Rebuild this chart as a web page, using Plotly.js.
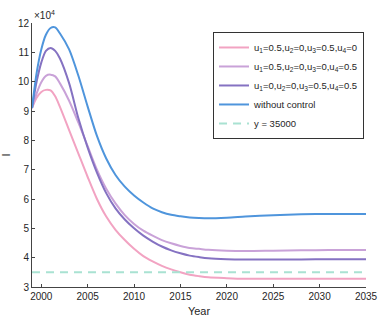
<!DOCTYPE html>
<html>
<head>
<meta charset="utf-8">
<script src="https://cdn.plot.ly/plotly-3.0.1.min.js"></script>
<style>
  html, body { margin: 0; padding: 0; background: #fff; }
  #chart { width: 392px; height: 327px; }
</style>
</head>
<body>
<div id="chart"></div>
<script>
// values, in units of 10^4
const years = [1999, 1999.5, 2000, 2000.5, 2001, 2001.5, 2002, 2003, 2004, 2005, 2006, 2007, 2008, 2009, 2010,
               2011, 2012, 2013, 2014, 2015, 2016, 2017, 2018, 2020, 2022, 2025, 2028, 2031, 2035];

const caseA = [9.1, 9.45, 9.65, 9.72, 9.7, 9.5, 9.15, 8.35, 7.55, 6.75, 6.0, 5.4, 4.95, 4.6, 4.3,
               4.05, 3.87, 3.72, 3.6, 3.5, 3.42, 3.37, 3.33, 3.3, 3.28, 3.28, 3.28, 3.28, 3.28];
const caseB = [9.1, 9.6, 9.98, 10.2, 10.24, 10.18, 9.95, 9.35, 8.6, 7.8, 7.0, 6.35, 5.85, 5.45, 5.15,
               4.92, 4.75, 4.6, 4.49, 4.4, 4.33, 4.3, 4.27, 4.24, 4.23, 4.24, 4.25, 4.26, 4.26];
const caseC = [9.1, 10.0, 10.65, 11.05, 11.15, 11.05, 10.8, 9.95, 8.75, 7.75, 6.9, 6.2, 5.68, 5.3, 5.0,
               4.75, 4.55, 4.38, 4.25, 4.15, 4.07, 4.02, 3.98, 3.95, 3.94, 3.94, 3.94, 3.95, 3.95];
const noControl = [9.1, 10.3, 11.1, 11.6, 11.83, 11.85, 11.65, 11.1, 10.2, 9.15, 8.15, 7.38, 6.82, 6.42, 6.12,
                   5.88, 5.68, 5.55, 5.46, 5.41, 5.37, 5.35, 5.34, 5.36, 5.4, 5.45, 5.48, 5.49, 5.49];

const threshold = 35000;
const scale = 1e4;
const lineYears = [1999, 2035];

const names = [
  'u<sub>1</sub>=0.5,u<sub>2</sub>=0,u<sub>3</sub>=0.5,u<sub>4</sub>=0',
  'u<sub>1</sub>=0.5,u<sub>2</sub>=0,u<sub>3</sub>=0,u<sub>4</sub>=0.5',
  'u<sub>1</sub>=0,u<sub>2</sub>=0,u<sub>3</sub>=0.5,u<sub>4</sub>=0.5',
  'without control',
  'y = 35000'
];
const colors = ['#f2a3c2', '#c9a2d8', '#8572c2', '#4f95dc', '#a9e2d2'];

const series = [caseA, caseB, caseC, noControl];
const traces = series.map((vals, i) => ({
  x: years,
  y: vals,
  type: 'scatter',
  mode: 'lines',
  name: names[i],
  line: { color: colors[i], width: 2, shape: 'spline', smoothing: 0.8 }
}));

traces.push({
  x: lineYears,
  y: lineYears.map(() => threshold / scale),
  type: 'scatter',
  mode: 'lines',
  name: names[4],
  line: { color: colors[4], width: 2, dash: '8px,6px' }
});

const layout = {
  width: 392,
  height: 327,
  paper_bgcolor: '#fff',
  plot_bgcolor: '#fff',
  font: { family: 'Liberation Sans, Arial, sans-serif', size: 10, color: '#262626' },
  margin: { l: 32, r: 26, t: 23, b: 40 },
  showlegend: true,
  legend: {
    x: 0.542, y: 0.966, xanchor: 'left', yanchor: 'top',
    bgcolor: '#fff', bordercolor: '#333', borderwidth: 1,
    font: { size: 9.5, color: '#262626' },
    tracegroupgap: 0
  },
  xaxis: {
    range: [1999, 2035],
    tickvals: [2000, 2005, 2010, 2015, 2020, 2025, 2030, 2035],
    ticks: 'inside', ticklen: 3, tickcolor: '#444',
    showline: true, linecolor: '#444', linewidth: 1,
    showgrid: false, zeroline: false,
    title: { text: 'Year', standoff: 6, font: { size: 11 } }
  },
  yaxis: {
    range: [3, 12],
    dtick: 1,
    ticks: 'inside', ticklen: 3, tickcolor: '#444',
    showline: true, linecolor: '#444', linewidth: 1,
    showgrid: false, zeroline: false,
    title: { text: 'I', standoff: 8, font: { size: 11 } }
  },
  annotations: [{
    xref: 'paper', yref: 'paper', x: 0, y: 1,
    xanchor: 'left', yanchor: 'bottom',
    text: '×10<sup>4</sup>', showarrow: false,
    font: { size: 10, color: '#262626' }
  }]
};

Plotly.newPlot('chart', traces, layout, { displayModeBar: false, staticPlot: true });
</script>
</body>
</html>
